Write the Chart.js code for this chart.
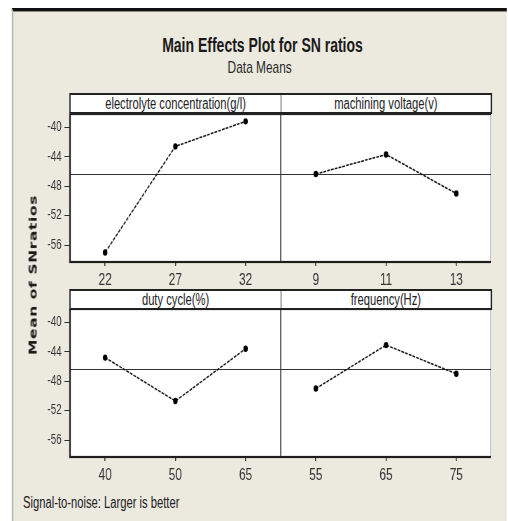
<!DOCTYPE html>
<html>
<head>
<meta charset="utf-8">
<script src="https://cdn.jsdelivr.net/npm/chart.js@4.4.0/dist/chart.umd.min.js"></script>
<style>
  html, body { margin: 0; padding: 0; background: #fff; overflow: hidden; width: 508px; height: 521px; }
  /* the whole sheet is laid out wide and narrowed horizontally */
  #page { position: absolute; left: 0; top: 0; width: 726px; height: 521px;
          transform: scaleX(0.7); transform-origin: 0 0;
          font-family: "Liberation Sans", Arial, sans-serif; }
  #frame { position: absolute; left: 17px; top: 8px; width: 707px; height: 513px;
           background: #ECE9DF; border-top: 3px solid #111; border-left: 2px solid #b5b3ab;
           box-sizing: border-box; box-shadow: inset 0 1px 0 #8a8880; }
  .title { position: absolute; left: 75px; width: 600px; top: 35px; text-align: center;
           font-weight: bold; font-size: 20px; line-height: 20px; color: #1a1a1a; }
  .sub { position: absolute; left: 71px; width: 600px; top: 59px; text-align: center;
         font-size: 17px; line-height: 17px; color: #2a2a2a; }
  .strip { position: absolute; left: 99px; width: 604px; height: 21px; box-sizing: border-box;
           border: 2px solid #222; background: #fff; display: flex; }
  .strip div { flex: 1; text-align: center; font-size: 16px; line-height: 17px; color: #222; }
  .strip div:first-child { border-right: 1.5px solid #444; }
  canvas { position: absolute; left: 40px; }
  .ylab { position: absolute; left: 47px; top: 275px; transform: translate(-50%, -50%) rotate(-90deg);
          white-space: nowrap; font-family: "DejaVu Sans", Verdana, sans-serif; font-weight: bold;
          font-size: 15.5px; letter-spacing: 0.6px; color: #1a1a1a; }
  .note { position: absolute; left: 33px; top: 495px; font-size: 16px; line-height: 16px; color: #222; }
</style>
</head>
<body>
<div id="page">
  <div id="frame"></div>
  <div class="title">Main Effects Plot for SN ratios</div>
  <div class="sub">Data Means</div>
  <div class="strip" style="top:93px"><div id="h1"></div><div id="h2"></div></div>
  <div class="strip" style="top:289px"><div id="h3"></div><div id="h4"></div></div>
  <canvas id="rowTop" width="662" height="178" style="top:114px"></canvas>
  <canvas id="rowBottom" width="662" height="178" style="top:309px"></canvas>
  <div class="ylab">Mean of SNratios</div>
  <div class="note">Signal-to-noise: Larger is better</div>
</div>
<script>
// Factor levels and mean S/N ratios (dB) at each level
const concName = 'electrolyte concentration(g/l)';
const concLevels = ['22', '27', '32'];
const concSN = [-57.0, -42.6, -39.2];

const voltName = 'machining voltage(v)';
const voltLevels = ['9', '11', '13'];
const voltSN = [-46.35, -43.7, -49.0];

const dutyName = 'duty cycle(%)';
const dutyLevels = ['40', '50', '65'];
const dutySN = [-44.8, -50.7, -43.6];

const freqName = 'frequency(Hz)';
const freqLevels = ['55', '65', '75'];
const freqSN = [-49.0, -43.1, -47.0];

const snTicks = [-56, -52, -48, -44, -40];
const snMin = -58.3;
const snMax = -38.2;

// grand mean of all level means, drawn as the reference line
const allSN = [].concat(concSN, voltSN, dutySN, freqSN);
const grandMean = allSN.reduce((s, v) => s + v, 0) / allSN.length;

document.getElementById('h1').textContent = concName;
document.getElementById('h2').textContent = voltName;
document.getElementById('h3').textContent = dutyName;
document.getElementById('h4').textContent = freqName;

const FONT = '"Liberation Sans", Arial, sans-serif';

// white plot area, grand-mean line, panel divider and frame
const panelFrame = {
  id: 'panelFrame',
  beforeDraw(chart) {
    const { ctx, chartArea: a } = chart;
    ctx.save();
    ctx.fillStyle = '#fff';
    ctx.fillRect(a.left, a.top, a.right - a.left, a.bottom - a.top);
    ctx.restore();
  },
  beforeDatasetsDraw(chart, args, opts) {
    const { ctx, chartArea: a, scales: { x, y } } = chart;
    const ym = Math.round(y.getPixelForValue(opts.mean)) + 0.5;
    const xm = (x.getPixelForTick(opts.split - 1) + x.getPixelForTick(opts.split)) / 2;
    ctx.save();
    ctx.strokeStyle = '#333';
    ctx.lineWidth = 1;
    ctx.beginPath();
    ctx.moveTo(a.left, ym);
    ctx.lineTo(a.right, ym);
    ctx.stroke();
    ctx.lineWidth = 1.5;
    ctx.beginPath();
    ctx.moveTo(xm, a.top);
    ctx.lineTo(xm, a.bottom);
    ctx.stroke();
    ctx.restore();
  },
  afterDraw(chart) {
    const { ctx, chartArea: a } = chart;
    ctx.save();
    ctx.strokeStyle = '#1e1e1e';
    ctx.lineWidth = 2.2;
    ctx.strokeRect(a.left, a.top, a.right - a.left, a.bottom - a.top);
    ctx.restore();
  }
};

function noPad(s) {
  s.paddingTop = 0; s.paddingBottom = 0; s.paddingLeft = 0; s.paddingRight = 0;
}

function makeRow(id, leftLevels, leftSN, rightLevels, rightSN) {
  const labels = leftLevels.concat(rightLevels);
  const lineStyle = {
    borderColor: '#111', borderWidth: 1.5, borderDash: [4, 1.5],
    pointRadius: 3.2, pointHoverRadius: 3.2, pointBackgroundColor: '#000',
    pointBorderWidth: 0, spanGaps: false, tension: 0, fill: false
  };
  return new Chart(document.getElementById(id), {
    type: 'line',
    data: {
      labels,
      datasets: [
        Object.assign({ data: leftSN.concat(rightLevels.map(() => null)) }, lineStyle),
        Object.assign({ data: leftLevels.map(() => null).concat(rightSN) }, lineStyle)
      ]
    },
    options: {
      responsive: false,
      animation: false,
      events: [],
      layout: { padding: 0, autoPadding: false },
      plugins: {
        legend: { display: false },
        tooltip: { enabled: false },
        panelFrame: { mean: grandMean, split: leftLevels.length }
      },
      scales: {
        x: {
          type: 'category',
          offset: true,
          border: { display: false },
          grid: { display: true, drawOnChartArea: false, drawTicks: true, tickLength: 4,
                  color: '#333', lineWidth: 1.5 },
          ticks: { color: '#333', padding: 4, maxRotation: 0, autoSkip: false,
                   font: { family: FONT, size: 17 } },
          afterFit(s) { s.height = 30; noPad(s); }
        },
        y: {
          min: snMin,
          max: snMax,
          border: { display: false },
          grid: { display: true, drawOnChartArea: false, drawTicks: true, tickLength: 8,
                  color: '#333', lineWidth: 1 },
          afterBuildTicks(s) { s.ticks = snTicks.map(v => ({ value: v })); },
          ticks: { color: '#333', padding: 4, stepSize: 4, includeBounds: false,
                   font: { family: FONT, size: 14 } },
          afterFit(s) { s.width = 60; noPad(s); }
        }
      }
    },
    plugins: [panelFrame]
  });
}

makeRow('rowTop', concLevels, concSN, voltLevels, voltSN);
makeRow('rowBottom', dutyLevels, dutySN, freqLevels, freqSN);
</script>
</body>
</html>
